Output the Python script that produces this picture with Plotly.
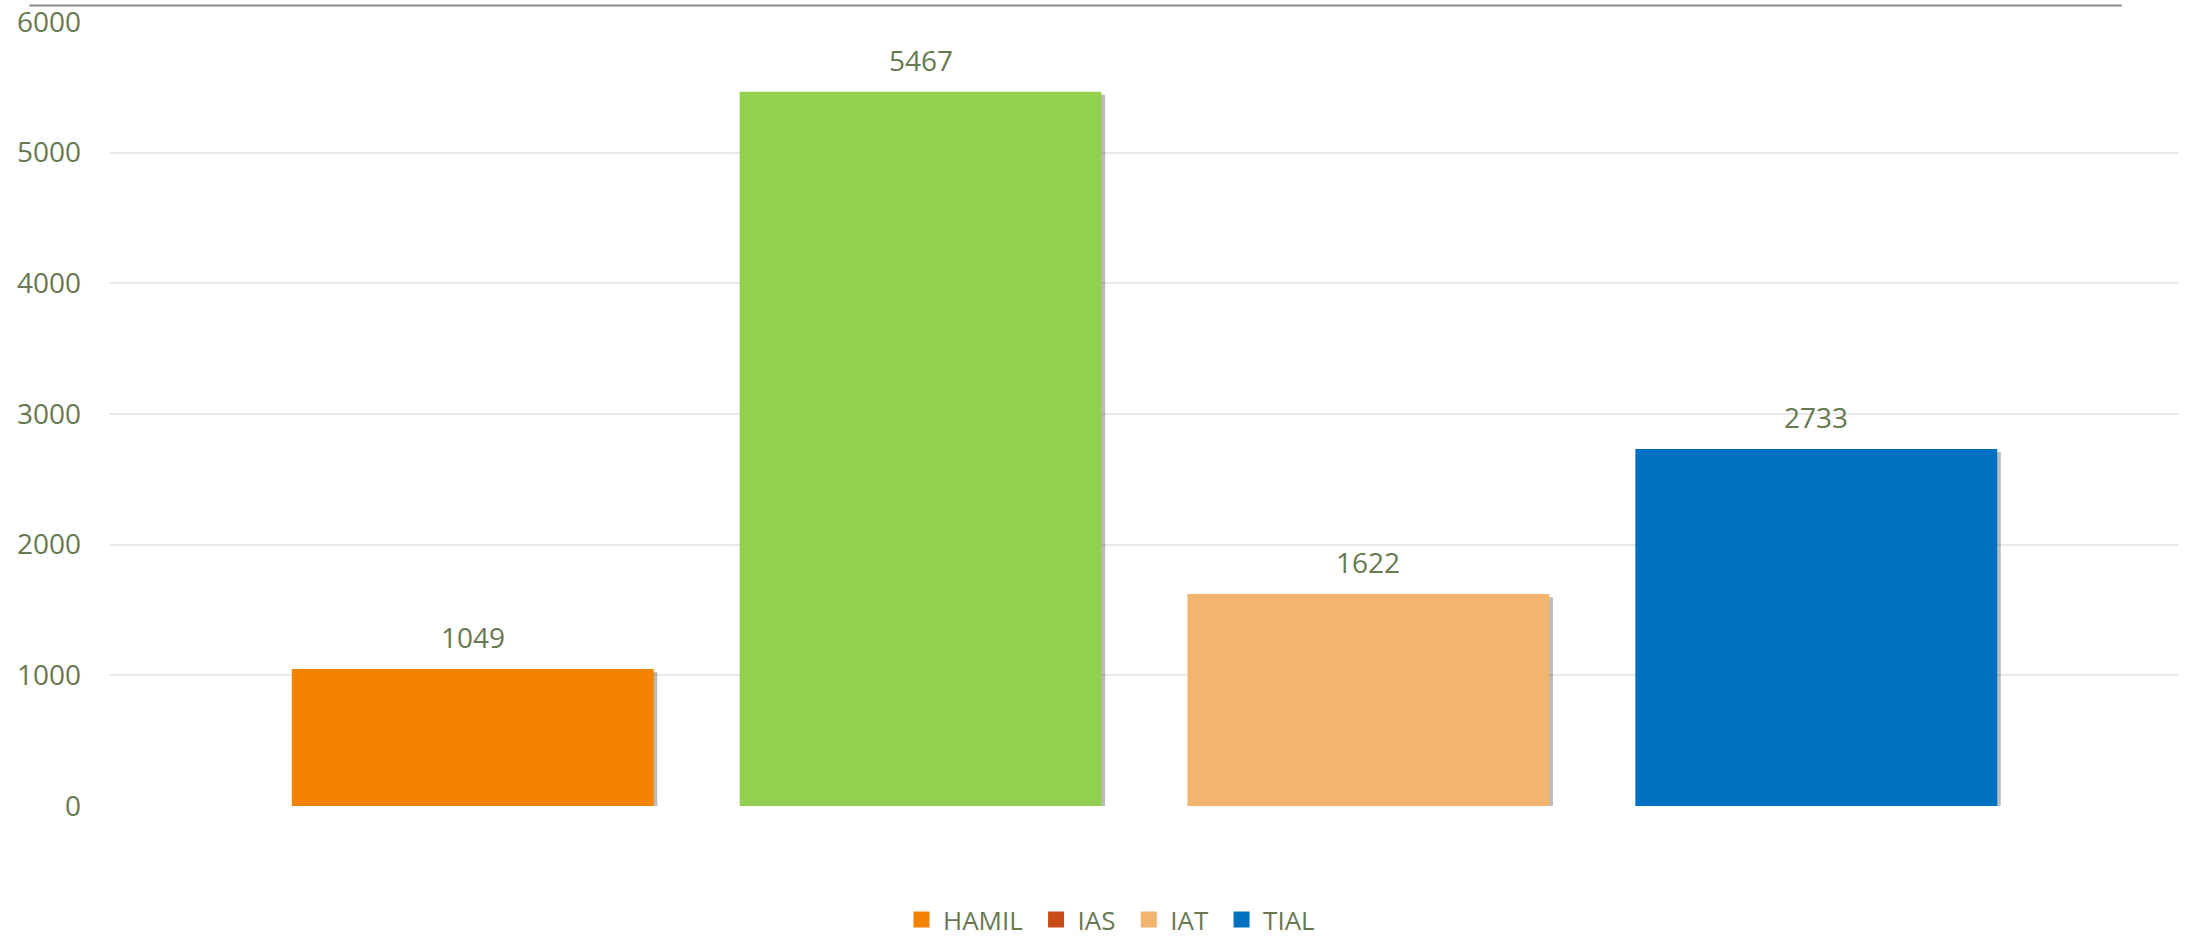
import plotly.graph_objects as go

categories = ["HAMIL", "IAS", "IAT", "TIAL"]
values = [1049, 5467, 1622, 2733]
bar_colors = ["#F38200", "#92D050", "#F2B46E", "#0070C0"]
legend_colors = ["#F38200", "#C84B18", "#F2B46E", "#0070C0"]
y_ticks = [0, 1000, 2000, 3000, 4000, 5000, 6000]

TXT = "#677853"
FONT = "Open Sans"
xs = list(range(len(categories)))

fig = go.Figure()
# soft drop shadow behind bars
fig.add_trace(go.Bar(
    x=[x + 0.008 for x in xs], y=[v - 10 for v in values], base=-14,
    width=0.808, marker=dict(color="rgba(60,60,60,0.35)", line=dict(width=0)),
    showlegend=False, hoverinfo="skip"))
fig.add_trace(go.Bar(
    x=xs, y=values, width=0.808,
    marker=dict(color=bar_colors, line=dict(width=0)),
    showlegend=False))
for name, col in zip(categories, legend_colors):
    fig.add_trace(go.Scatter(
        x=[None], y=[None], mode="markers", name=name + "\u00a0",
        marker=dict(symbol="square", size=18, color=col)))

for x, v in zip(xs, values):
    fig.add_annotation(x=x, y=v, text=str(v), showarrow=False,
                       yanchor="bottom", yshift=11,
                       font=dict(family=FONT, size=28, color=TXT))

fig.add_shape(type="line", xref="paper", yref="paper",
              x0=-0.039, x1=0.9724, y0=1.021, y1=1.021,
              line=dict(color="#8C8C8C", width=2))

fig.update_layout(
    width=2190, height=939,
    paper_bgcolor="white", plot_bgcolor="white",
    margin=dict(l=110, r=11, t=22, b=133, autoexpand=False),
    barmode="overlay",
    font=dict(family=FONT, color=TXT),
    xaxis=dict(range=[-0.81, 3.81], showticklabels=False, showgrid=False,
               zeroline=False, showline=False, automargin=False),
    yaxis=dict(range=[0, 6000], tickvals=y_ticks, showgrid=True,
               gridcolor="#EAEAE4", gridwidth=2, zeroline=False,
               showline=False, ticklabelstandoff=28, automargin=False,
               tickfont=dict(family=FONT, size=28, color=TXT)),
    legend=dict(orientation="h", x=0.485, xanchor="center", y=-0.145,
                yanchor="middle", font=dict(family=FONT, size=26, color=TXT),
                itemwidth=33, tracegroupgap=0, borderwidth=0),
    showlegend=True,
)

fig.write_html("out.html", config={"displayModeBar": False},
               post_script="document.body.style.margin='0';document.body.style.overflow='hidden';")
